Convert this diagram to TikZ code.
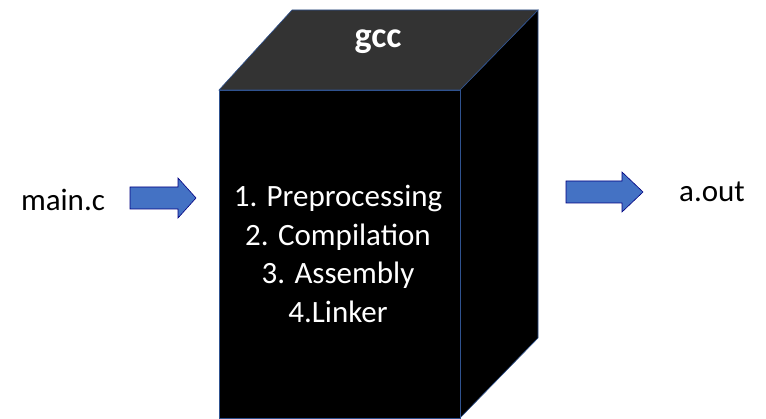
\documentclass[tikz,border=0pt]{standalone}
\usepackage{fontspec}
\setmainfont{Carlito}
\begin{document}
\begin{tikzpicture}[x=1pt,y=-1pt,
  arr/.style={draw=blue!50!black,fill={rgb,255:red,68;green,114;blue,196},line width=0.6pt},
  lbl/.style={font=\fontsize{31}{36}\selectfont},
  edge/.style={draw={rgb,255:red,47;green,82;blue,143},line width=0.6pt}]
\useasboundingbox (0,0) rectangle (766,419);
\fill[black,edge] (460,90) -- (538,10) -- (538,338) -- (460,418) -- cycle;
\fill[black!80,edge] (219,90) -- (292,10) -- (538,10) -- (460,90) -- cycle;
\fill[black,edge] (219,90) rectangle (460,418);
\node[white,font=\bfseries\fontsize{36}{40}\selectfont] (gcc) at (378,42) {gcc};
\node[white,align=center,font=\fontsize{31}{38.5}\selectfont] (steps) at (338,254) {1. Preprocessing\\2. Compilation\\3. Assembly\\4.Linker};
\node[lbl] (in) at (63,200) {main.c};
\node[lbl] (out) at (712,192) {a.out};
\path[arr] (130,187) -- (178,187) -- (178,178) -- (196,198) -- (178,218) -- (178,209) -- (130,209) -- cycle;
\path[arr] (566,181) -- (622,181) -- (622,172) -- (643,192) -- (622,212) -- (622,203) -- (566,203) -- cycle;
\end{tikzpicture}
\end{document}
